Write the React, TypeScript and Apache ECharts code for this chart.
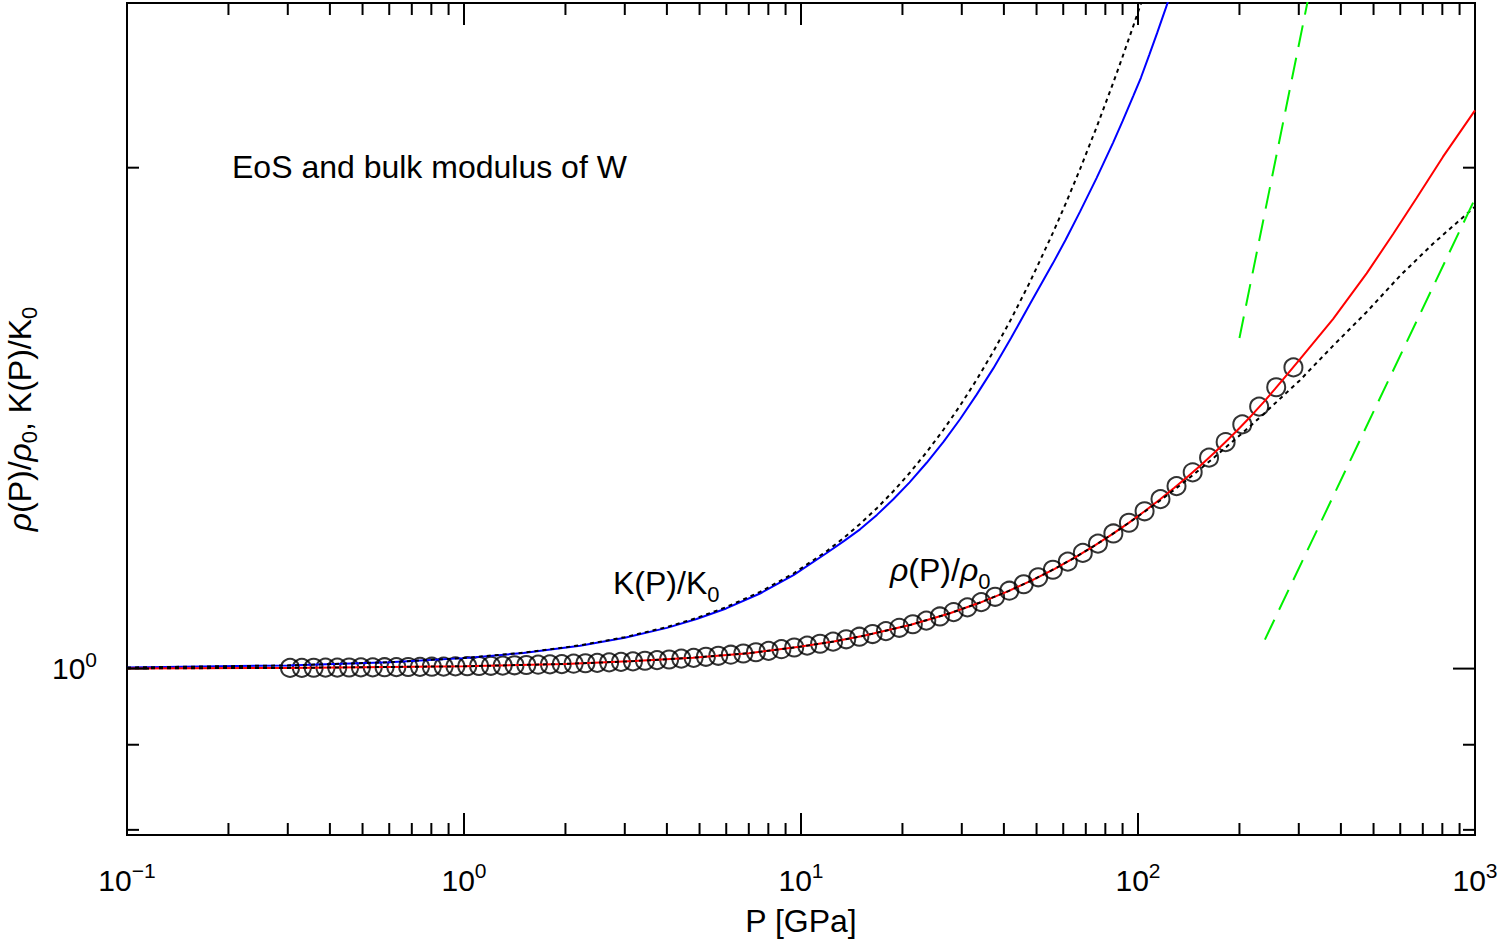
import React, { useEffect, useRef } from "react";
import * as echarts from "echarts";

// ---------------- data ----------------
// axis ticks
const xMajorTicks = [0.1, 1, 10, 100, 1000];
const xMinorTicks = [
  0.2, 0.3, 0.4, 0.5, 0.6, 0.7, 0.8, 0.9,
  2, 3, 4, 5, 6, 7, 8, 9,
  20, 30, 40, 50, 60, 70, 80, 90,
  200, 300, 400, 500, 600, 700, 800, 900,
];
const yMajorTicks = [1];
const yMinorTicks = [0.8, 0.9, 2];
const yTickLabels = [1];

// K(P)/K0 (blue solid)
const blueP = [0.1, 0.3, 0.6, 1, 1.5, 2.21, 3, 4, 4.9, 6, 7.56, 9.5, 11.92, 13.4, 14.97, 16.8, 18.79, 21, 23.6, 26.5, 29.64, 33.2, 37.21, 42, 47.8, 55.9, 61, 67.3, 75.4, 84.3, 90, 96.85, 102, 108, 114, 120.9, 130];
const blueK = [1.0015, 1.0044, 1.0087, 1.0146, 1.0218, 1.0322, 1.0436, 1.058, 1.071, 1.0868, 1.1095, 1.138, 1.1735, 1.193, 1.2125, 1.237, 1.264, 1.294, 1.3295, 1.369, 1.412, 1.461, 1.515, 1.58, 1.656, 1.752, 1.81, 1.882, 1.972, 2.07, 2.133, 2.209, 2.265, 2.338, 2.41, 2.494, 2.604];

// K(P)/K0 (black dotted)
const blackKP = [0.1, 0.3, 0.6, 1, 1.5, 2.21, 3, 4, 4.9, 6, 7.56, 9.5, 11.92, 13.4, 14.97, 16.8, 18.79, 21, 23.6, 26.5, 29.64, 33.2, 37.21, 42, 47.8, 55.9, 61, 67.3, 75.4, 84.3, 90, 96.85, 102.2, 110];
const blackK = [1.0015, 1.0044, 1.0089, 1.0148, 1.0222, 1.0327, 1.0444, 1.0592, 1.0725, 1.0888, 1.1119, 1.1406, 1.1764, 1.1983, 1.2216, 1.2486, 1.2781, 1.3108, 1.3493, 1.3922, 1.4387, 1.4914, 1.5507, 1.6216, 1.7074, 1.8273, 1.9028, 1.996, 2.1159, 2.2476, 2.332, 2.4334, 2.5126, 2.628];

// rho(P)/rho0 (red solid)
const redP = [0.1, 0.3, 1, 2, 3.2, 4.78, 7, 9.89, 12.5, 15.35, 21.18, 27.4, 34.03, 41.08, 48.6, 56.58, 65.08, 74.1, 83.69, 93.86, 104.6, 116.1, 128.2, 141.1, 154.7, 169.1, 184.4, 200.5, 217.6, 235.6, 254.7, 274.9, 302.5, 379, 477, 571, 671, 803, 1000];
const redRho = [1.0003, 1.001, 1.0032, 1.0065, 1.0104, 1.0152, 1.0216, 1.0306, 1.0381, 1.0464, 1.0625, 1.0789, 1.0957, 1.1128, 1.1303, 1.1481, 1.1664, 1.185, 1.204, 1.2234, 1.2432, 1.2635, 1.2842, 1.3054, 1.327, 1.3491, 1.372, 1.3955, 1.42, 1.4455, 1.472, 1.4995, 1.5345, 1.622, 1.728, 1.824, 1.918, 2.03, 2.165];

// rho(P)/rho0 (black dotted)
const blackRhoP = [0.1, 0.3, 1, 2, 3.2, 4.78, 7, 9.89, 12.5, 15.35, 21.18, 27.4, 34.03, 41.08, 48.6, 56.58, 65.08, 74.1, 83.69, 93.86, 104.6, 116.1, 128.2, 141.1, 154.7, 169.1, 184.4, 200.5, 217.6, 235.6, 254.7, 274.9, 302, 379, 477, 599, 750, 1000];
const blackRho = [1.0003, 1.001, 1.0032, 1.0065, 1.0104, 1.0152, 1.0216, 1.0306, 1.0381, 1.0464, 1.0625, 1.0789, 1.0957, 1.1128, 1.1303, 1.1481, 1.1664, 1.185, 1.204, 1.2234, 1.2425, 1.2615, 1.281, 1.3005, 1.3205, 1.3405, 1.361, 1.381, 1.4015, 1.422, 1.443, 1.464, 1.49, 1.563, 1.638, 1.722, 1.8, 1.895];

// rho(P)/rho0 data points (open circles)
const circleP = [
  0.3046, 0.3302, 0.358, 0.3881, 0.4207, 0.4561, 0.4944, 0.536, 0.5811, 0.6299,
  0.6829, 0.7403, 0.8025, 0.87, 0.9432, 1.0225, 1.1084, 1.2016, 1.3027, 1.4122,
  1.5309, 1.6596, 1.7992, 1.9505, 2.1145, 2.2923, 2.485,
  2.696, 2.923, 3.172, 3.443, 3.739, 4.061, 4.414, 4.801, 5.222, 5.683,
  6.19, 6.742, 7.348, 8.014, 8.747, 9.547, 10.43, 11.39, 12.45, 13.62,
  14.9, 16.31, 17.86, 19.57, 21.47, 23.54, 25.83, 28.37, 31.17, 34.26, 37.67,
  41.51, 45.79, 50.57, 55.91, 61.89, 68.58, 76.08, 84.51, 93.98, 104.6,
  116.6, 130.1, 145.3, 162.5, 182, 203.9, 228.8, 257.1, 289.2,
];
const circleRho = [
  1.001, 1.0011, 1.0012, 1.0013, 1.0014, 1.0015, 1.0016, 1.0017, 1.0019, 1.002,
  1.0022, 1.0024, 1.0026, 1.0028, 1.0031, 1.0033, 1.0036, 1.0039, 1.0042, 1.0046,
  1.005, 1.0054, 1.0058, 1.0063, 1.0068, 1.0074, 1.008,
  1.0086, 1.0093, 1.01, 1.0109, 1.0118, 1.0127, 1.0138, 1.015, 1.0165, 1.0179,
  1.0194, 1.0211, 1.0229, 1.0249, 1.0272, 1.0296, 1.0322, 1.035, 1.038, 1.0414,
  1.0451, 1.049, 1.0533, 1.0581, 1.0633, 1.0687, 1.0748, 1.0814, 1.0885, 1.0963, 1.1045,
  1.1138, 1.1238, 1.1347, 1.1466, 1.1595, 1.1736, 1.1889, 1.2056, 1.2236, 1.2432,
  1.2644, 1.2873, 1.3121, 1.339, 1.3682, 1.402, 1.437, 1.476, 1.517,
];

// green dashed guide lines
const green1P = [200, 330];
const green1 = [1.58, 2.607];
const green2P = [238, 1000];
const green2 = [1.041, 1.916];

// ---------------- layout / style ----------------
const X_MIN = 0.1;
const X_MAX = 1000;
const Y_MIN = 0.794328;
const Y_MAX = 2.511886;
const FONT = '"Liberation Sans", Arial, Helvetica, sans-serif';
const MAJOR_LEN = 22;
const MINOR_LEN = 12;

const zip = (xs: number[], ys: number[]) => xs.map((x, i) => [x, ys[i]]);
const expText = (v: number) => {
  const n = Math.round(Math.log10(v));
  return n < 0 ? "\u2212" + String(-n) : String(n);
};

const labelRich: any = {
  n: { fontFamily: FONT, fontSize: 32, lineHeight: 38, verticalAlign: "top", fill: "#000" },
  i: { fontFamily: FONT, fontSize: 32, fontStyle: "italic", lineHeight: 38, verticalAlign: "top", fill: "#000" },
  d: { fontFamily: FONT, fontSize: 22, lineHeight: 22, verticalAlign: "bottom", fill: "#000" },
};
const nameRich: any = {
  n: { fontFamily: FONT, fontSize: 32, lineHeight: 36, verticalAlign: "top", color: "#000" },
  i: { fontFamily: FONT, fontSize: 32, fontStyle: "italic", lineHeight: 36, verticalAlign: "top", color: "#000" },
  d: { fontFamily: FONT, fontSize: 22, lineHeight: 22, verticalAlign: "bottom", color: "#000" },
};

const tickLine = (x1: number, y1: number, x2: number, y2: number) => ({
  type: "line",
  shape: { x1, y1, x2, y2 },
  style: { stroke: "#000", lineWidth: 2 },
});

const xTickRender = (len: number) => (_params: any, api: any) => {
  const v = api.value(0);
  const b = api.coord([v, Y_MIN]);
  const t = api.coord([v, Y_MAX]);
  return {
    type: "group",
    children: [tickLine(b[0], b[1], b[0], b[1] - len), tickLine(t[0], t[1], t[0], t[1] + len)],
  };
};

const yTickRender = (len: number) => (_params: any, api: any) => {
  const v = api.value(1);
  const l = api.coord([X_MIN, v]);
  const r = api.coord([X_MAX, v]);
  return {
    type: "group",
    children: [tickLine(l[0], l[1], l[0] + len, l[1]), tickLine(r[0], r[1], r[0] - len, r[1])],
  };
};

const yLabelRender = (_params: any, api: any) => {
  const v = api.value(1);
  const p = api.coord([X_MIN, v]);
  return {
    type: "text",
    x: p[0] - 30,
    y: p[1],
    style: {
      text: `{b|10}{s|${expText(v)}}`,
      rich: {
        b: { fontFamily: FONT, fontSize: 30, lineHeight: 40, fill: "#000" },
        s: { fontFamily: FONT, fontSize: 21, lineHeight: 22, verticalAlign: "top", fill: "#000" },
      },
      align: "right",
      textAlign: "right",
      verticalAlign: "middle",
      textVerticalAlign: "middle",
      fill: "#000",
    },
  };
};

const tickSeries = (data: number[][], render: any) => ({
  type: "custom",
  coordinateSystem: "cartesian2d",
  xAxisIndex: 0,
  yAxisIndex: 0,
  clip: false,
  silent: true,
  z: 10,
  data,
  renderItem: render,
});

const lineSeries = (data: number[][], color: string, type: any) => ({
  type: "line",
  data,
  symbol: "none",
  showSymbol: false,
  smooth: false,
  clip: true,
  silent: true,
  lineStyle: { color, width: 2, type },
});

export default function App() {
  const ref = useRef<HTMLDivElement>(null);

  useEffect(() => {
    if (!ref.current) return;
    const chart = echarts.init(ref.current, undefined, { renderer: "svg" });
    const option: any = {
      animation: false,
      backgroundColor: "#fff",
      grid: {
        show: true,
        left: 127,
        top: 3,
        width: 1348,
        height: 832,
        outerBoundsMode: "none",
        containLabel: false,
        borderColor: "#000",
        borderWidth: 2,
        backgroundColor: "transparent",
      },
      xAxis: {
        type: "log",
        logBase: 10,
        min: X_MIN,
        max: X_MAX,
        axisLine: { show: false },
        axisTick: { show: false },
        splitLine: { show: false },
        minorTick: { show: false },
        axisLabel: {
          show: true,
          margin: 25,
          showMinLabel: true,
          showMaxLabel: true,
          formatter: (v: number) => `{b|10}{s|${expText(v)}}`,
          rich: {
            b: { fontFamily: FONT, fontSize: 30, lineHeight: 40, color: "#000" },
            s: { fontFamily: FONT, fontSize: 21, lineHeight: 22, verticalAlign: "top", color: "#000" },
          },
        },
        name: "P [GPa]",
        nameLocation: "middle",
        nameGap: 68,
        nameTextStyle: { fontFamily: FONT, fontSize: 32, lineHeight: 36, color: "#000" },
      },
      yAxis: {
        type: "log",
        logBase: 10,
        min: Y_MIN,
        max: Y_MAX,
        axisLine: { show: false },
        axisTick: { show: false },
        axisLabel: { show: false },
        splitLine: { show: false },
        minorTick: { show: false },
        name: "{i|\u03c1}{n|(P)/}{i|\u03c1}{d|0}{n|, K(P)/K}{d|0}",
        nameLocation: "middle",
        nameRotate: 90,
        nameGap: 87,
        nameTextStyle: { fontFamily: FONT, fontSize: 32, color: "#000", rich: nameRich },
      },
      graphic: [
        {
          type: "text",
          x: 232,
          y: 167,
          silent: true,
          style: {
            text: "EoS and bulk modulus of W",
            fontFamily: FONT,
            fontSize: 32,
            fill: "#000",
            verticalAlign: "middle",
            textVerticalAlign: "middle",
          },
        },
        {
          type: "text",
          x: 613,
          y: 586,
          silent: true,
          style: {
            text: "{n|K(P)/K}{d|0}",
            rich: labelRich,
            fill: "#000",
            verticalAlign: "middle",
            textVerticalAlign: "middle",
          },
        },
        {
          type: "text",
          x: 890,
          y: 573,
          silent: true,
          style: {
            text: "{i|\u03c1}{n|(P)/}{i|\u03c1}{d|0}",
            rich: labelRich,
            fill: "#000",
            verticalAlign: "middle",
            textVerticalAlign: "middle",
          },
        },
      ],
      series: [
        {
          type: "scatter",
          data: zip(circleP, circleRho),
          symbol: "circle",
          symbolSize: 18,
          silent: true,
          itemStyle: { color: "rgba(0,0,0,0)", borderColor: "#000", borderWidth: 2 },
          z: 2,
        },
        { ...lineSeries(zip(blueP, blueK), "#0000ff", "solid"), z: 3 },
        { ...lineSeries(zip(redP, redRho), "#ff0000", "solid"), z: 3 },
        { ...lineSeries(zip(blackKP, blackK), "#000000", [4, 4]), z: 4 },
        { ...lineSeries(zip(blackRhoP, blackRho), "#000000", [4, 4]), z: 4 },
        { ...lineSeries(zip(green1P, green1), "#00f000", [22, 11]), z: 4 },
        { ...lineSeries(zip(green2P, green2), "#00f000", [22, 11]), z: 4 },
        tickSeries(xMajorTicks.map((v) => [v, Y_MIN]), xTickRender(MAJOR_LEN)),
        tickSeries(xMinorTicks.map((v) => [v, Y_MIN]), xTickRender(MINOR_LEN)),
        tickSeries(yMajorTicks.map((v) => [X_MIN, v]), yTickRender(MAJOR_LEN)),
        tickSeries(yMinorTicks.map((v) => [X_MIN, v]), yTickRender(MINOR_LEN)),
        tickSeries(yTickLabels.map((v) => [X_MIN, v]), yLabelRender),
      ],
    };
    chart.setOption(option);
    return () => chart.dispose();
  }, []);

  return (
    <div
      ref={ref}
      style={{ position: "fixed", left: 0, top: 0, width: 1499, height: 939, background: "#fff" }}
    />
  );
}
